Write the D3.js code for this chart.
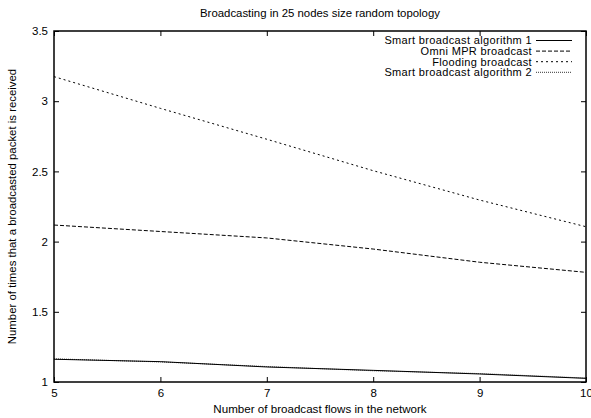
<!DOCTYPE html>
<html>
<head>
<meta charset="utf-8">
<script src="https://cdn.jsdelivr.net/npm/d3@7"></script>
<style>
  body { margin: 0; background: #fff; }
  svg text { font-family: "Liberation Sans", Arial, sans-serif; fill: #000; }
</style>
</head>
<body>
<div id="container"></div>
<script>
var WIDTH = 591;
var HEIGHT = 418;
var MARGIN = { TOP: 31, BOTTOM: 36, LEFT: 54, RIGHT: 5 };

var width = WIDTH - MARGIN.LEFT - MARGIN.RIGHT;
var height = HEIGHT - MARGIN.TOP - MARGIN.BOTTOM;

// data
const flows = [5, 6, 7, 8, 9, 10];
const smartAlg1 = [1.162, 1.145, 1.107, 1.083, 1.057, 1.026];
const omniMpr = [2.118, 2.072, 2.026, 1.947, 1.853, 1.781];
const flooding = [3.175, 2.949, 2.729, 2.505, 2.296, 2.106];
const smartAlg2 = [1.165, 1.143, 1.110, 1.080, 1.060, 1.028];

const seriesNames = ['Smart broadcast algorithm 1', 'Omni MPR broadcast',
                     'Flooding broadcast', 'Smart broadcast algorithm 2'];
const seriesValues = [smartAlg1, omniMpr, flooding, smartAlg2];
const dashes = [null, '4,2', '2,3', '1,1'];

const xTicks = [5, 6, 7, 8, 9, 10];
const yTicks = [1, 1.5, 2, 2.5, 3, 3.5];

const svg = d3.select('#container')
  .append('svg')
    .attr('width', WIDTH)
    .attr('height', HEIGHT);

const container = svg.append('g')
    .attr('transform', `translate(${MARGIN.LEFT}, ${MARGIN.TOP})`);

const x = d3.scaleLinear().domain([5, 10]).range([0, width]);
const y = d3.scaleLinear().domain([1, 3.5]).range([height, 0]);

// axes, gnuplot style: inward ticks mirrored on all four sides
const fmt = d => String(d);

container.append('g')
  .attr('transform', `translate(0, ${height})`)
  .call(d3.axisBottom(x).tickValues(xTicks).tickFormat(fmt).tickSizeInner(-5).tickSizeOuter(0).tickPadding(7));

container.append('g')
  .call(d3.axisTop(x).tickValues(xTicks).tickFormat('').tickSizeInner(-5).tickSizeOuter(0));

container.append('g')
  .call(d3.axisLeft(y).tickValues(yTicks).tickFormat(fmt).tickSizeInner(-5).tickSizeOuter(0).tickPadding(6));

container.append('g')
  .attr('transform', `translate(${width}, 0)`)
  .call(d3.axisRight(y).tickValues(yTicks).tickFormat('').tickSizeInner(-5).tickSizeOuter(0));

container.selectAll('.domain').remove();
container.selectAll('.tick line').attr('stroke', '#000');
container.selectAll('.tick text')
  .style('font-size', '11.5px')
  .style('font-family', '"Liberation Sans", Arial, sans-serif');

container.append('rect')
  .attr('width', width)
  .attr('height', height)
  .attr('fill', 'none')
  .attr('stroke', '#000')
  .attr('stroke-width', 1.5);

// lines
const line = d3.line()
  .x((d, i) => x(flows[i]))
  .y(d => y(d));

seriesValues.forEach((vals, k) => {
  container.append('path')
    .datum(vals)
    .attr('d', line)
    .attr('fill', 'none')
    .attr('stroke', '#000')
    .attr('stroke-width', k == 3 ? 0.8 : 1)
    .attr('stroke-dasharray', dashes[k]);
});

// legend
const legend = container.append('g')
  .attr('transform', `translate(${width - 54}, 9.5)`);

seriesNames.forEach((name, k) => {
  const row = legend.append('g').attr('transform', `translate(0, ${k * 10.6})`);
  row.append('text')
    .attr('x', 0)
    .attr('y', 0)
    .attr('dy', '0.35em')
    .attr('text-anchor', 'end')
    .style('font-size', '11px')
    .style('letter-spacing', '0.35px')
    .text(name);
  row.append('line')
    .attr('x1', 4).attr('x2', 40)
    .attr('y1', 0).attr('y2', 0)
    .attr('stroke', '#000')
    .attr('stroke-width', k == 3 ? 0.8 : 1)
    .attr('stroke-dasharray', dashes[k]);
});

// titles
svg.append('text')
  .attr('x', MARGIN.LEFT + width / 2)
  .attr('y', 13)
  .attr('dy', '0.35em')
  .attr('text-anchor', 'middle')
  .style('font-size', '11.4px')
  .text('Broadcasting in 25 nodes size random topology');

svg.append('text')
  .attr('x', MARGIN.LEFT + width / 2)
  .attr('y', 409)
  .attr('dy', '0.35em')
  .attr('text-anchor', 'middle')
  .style('font-size', '11.6px')
  .text('Number of broadcast flows in the network');

svg.append('text')
  .attr('transform', `translate(12, ${MARGIN.TOP + height / 2}) rotate(-90)`)
  .attr('dy', '0.35em')
  .attr('text-anchor', 'middle')
  .style('font-size', '11.4px')
  .text('Number of times that a broadcasted packet is received');
</script>
</body>
</html>
